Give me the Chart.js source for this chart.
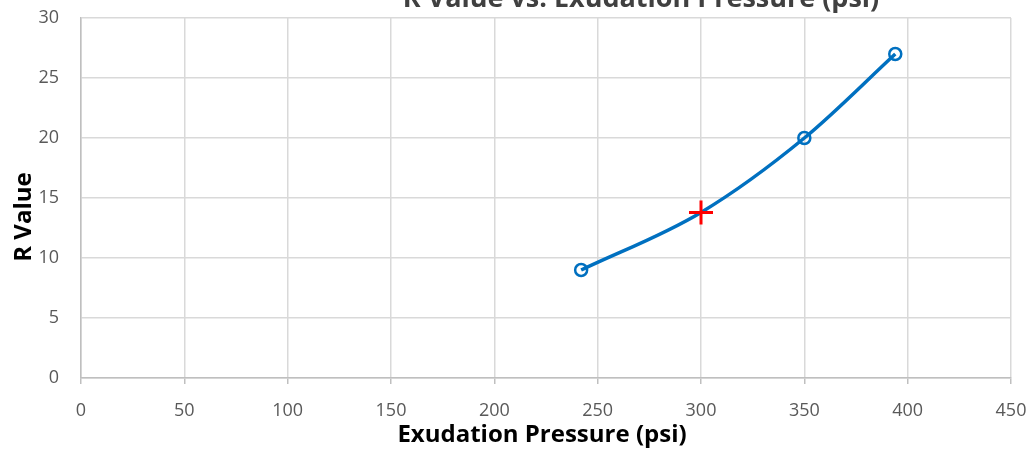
<!DOCTYPE html>
<html>
<head>
<meta charset="utf-8">
<script src="https://cdn.jsdelivr.net/npm/chart.js@4/dist/chart.umd.min.js"></script>
<style>
  body { margin: 0; background: #fff; }
  #wrap { width: 1031px; height: 454px; position: relative; }
</style>
</head>
<body>
<div id="wrap"><canvas id="chart"></canvas></div>
<script>
// Measured points (circles)
const pressure = [242, 350, 394];
const rValue = [9, 20, 27];
// Design point (red cross)
const targetPressure = [300];
const targetR = [13.8];
// Smoothed curve as it reads off the picture (passes through the cross)
const curvePressure = [242, 300, 350, 394];
const curveR = [9, 13.8, 20, 27];

const xTicks = { min: 0, max: 450, step: 50 };
const yTicks = { min: 0, max: 30, step: 5 };

const chartTitle = "R Value vs. Exudation Pressure (psi)";
const xTitle = "Exudation Pressure (psi)";
const yTitle = "R Value";

// Titles placed like the Excel original (title is partly cut off at the top)
const titlesPlugin = {
  id: 'titles',
  afterDraw(chart) {
    const ctx = chart.ctx;
    ctx.save();
    ctx.fillStyle = '#404040';
    ctx.font = 'bold 27px "Open Sans"';
    ctx.textAlign = 'center';
    ctx.textBaseline = 'alphabetic';
    ctx.fillText(chartTitle, 641, 7, 544);

    ctx.fillStyle = '#000';
    ctx.font = 'bold 24px "Open Sans"';
    ctx.fillText(xTitle, 542, 442, 317);

    ctx.translate(31, 217);
    ctx.rotate(-Math.PI / 2);
    ctx.fillText(yTitle, 0, 0, 99);
    ctx.restore();
  }
};

const toXY = (xs, ys) => xs.map((x, i) => ({ x: x, y: ys[i] }));

new Chart(document.getElementById('chart'), {
  type: 'scatter',
  data: {
    datasets: [
      {
        data: toXY(targetPressure, targetR),
        pointStyle: 'cross',
        pointRadius: 12,
        borderColor: '#FF0000',
        backgroundColor: '#FF0000',
        pointBorderWidth: 3,
        showLine: false
      },
      {
        data: toXY(pressure, rValue),
        showLine: false,
        pointStyle: 'circle',
        pointRadius: 6,
        pointBorderWidth: 2.5,
        pointBackgroundColor: 'rgba(255,255,255,0)',
        pointBorderColor: '#0070C0'
      },
      {
        data: toXY(curvePressure, curveR),
        showLine: true,
        cubicInterpolationMode: 'monotone',
        borderColor: '#0070C0',
        borderWidth: 3.5,
        pointRadius: 0
      }
    ]
  },
  options: {
    responsive: true,
    maintainAspectRatio: false,
    animation: false,
    layout: { padding: { top: 18, right: 20, left: 0, bottom: 0 } },
    plugins: {
      legend: { display: false },
      tooltip: { enabled: false }
    },
    scales: {
      x: {
        type: 'linear',
        min: xTicks.min,
        max: xTicks.max,
        ticks: {
          stepSize: xTicks.step,
          color: '#595959',
          font: { family: 'Open Sans', size: 18 },
          padding: 16
        },
        grid: {
          color: '#d9d9d9',
          lineWidth: 1.5,
          tickLength: 6,
          tickColor: '#bfbfbf'
        },
        border: { color: '#bfbfbf', width: 1.5 },
        afterFit(scale) {
          scale.height = 76;
          scale.paddingLeft = 0;
          scale.paddingRight = 0;
        }
      },
      y: {
        min: yTicks.min,
        max: yTicks.max,
        ticks: {
          stepSize: yTicks.step,
          color: '#595959',
          font: { family: 'Open Sans', size: 18 },
          padding: 22
        },
        grid: {
          color: '#d9d9d9',
          lineWidth: 1.5,
          drawTicks: false
        },
        border: { color: '#bfbfbf', width: 1.5 },
        afterFit(scale) {
          scale.width = 81;
          scale.paddingTop = 0;
          scale.paddingBottom = 0;
        }
      }
    }
  },
  plugins: [titlesPlugin]
});
</script>
</body>
</html>
